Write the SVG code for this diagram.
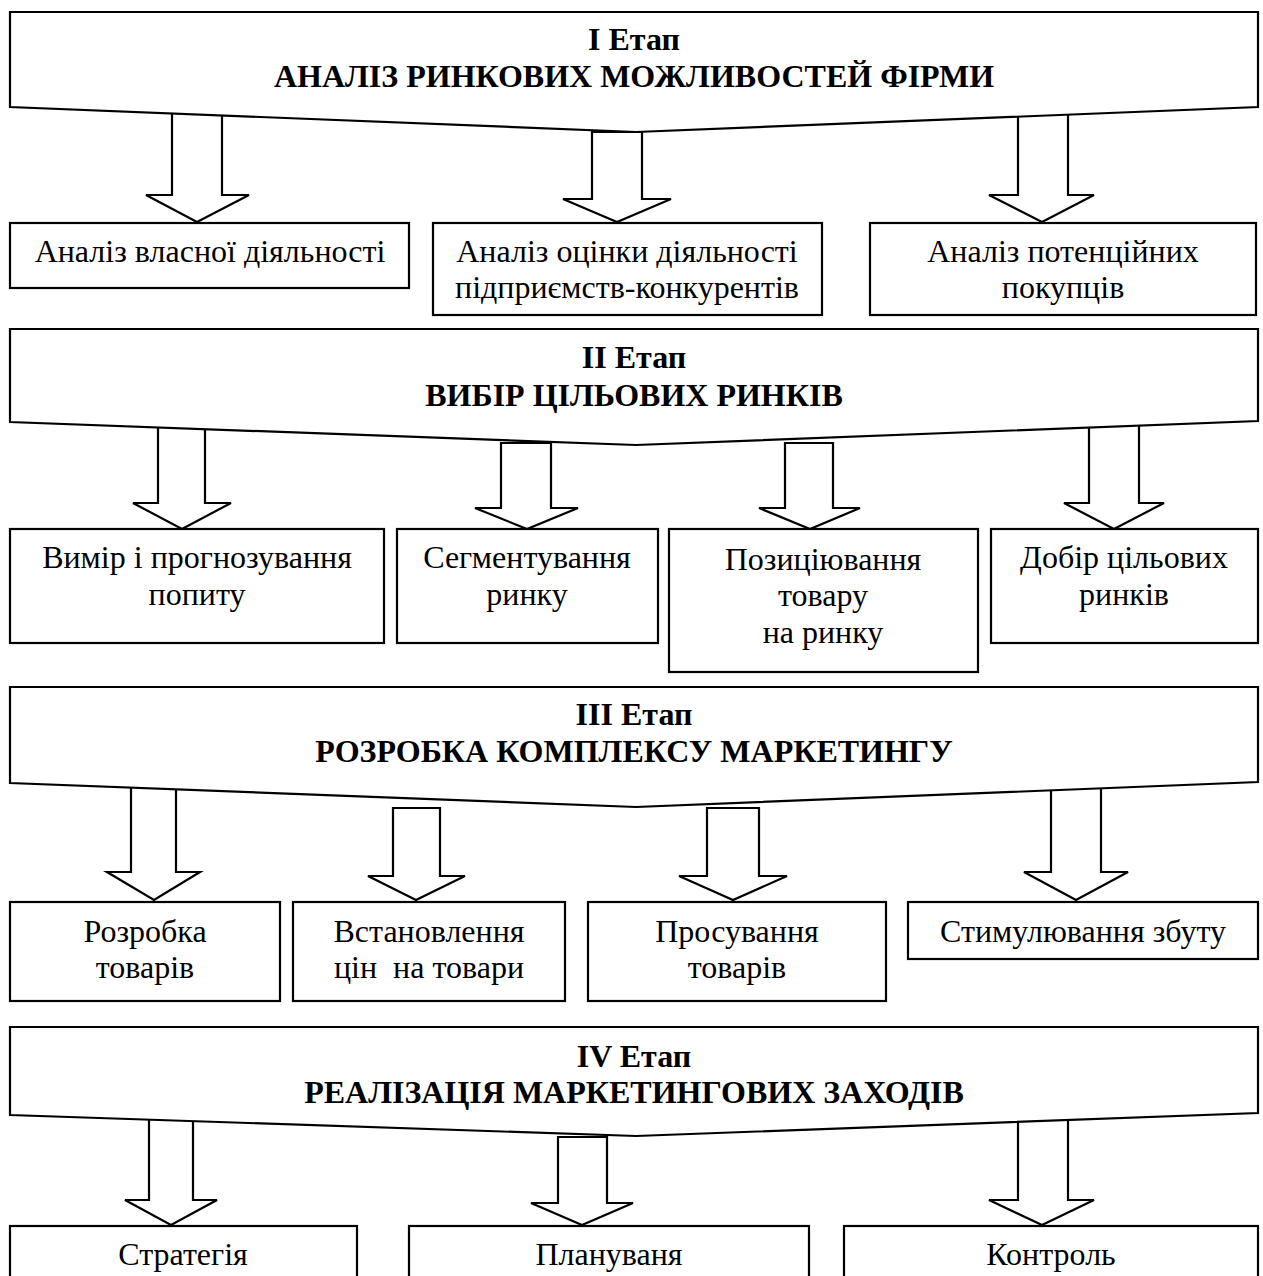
<svg xmlns="http://www.w3.org/2000/svg" width="1263" height="1276" viewBox="0 0 1263 1276">
<style>
.bg{fill:#fff}
.stage{fill:#fff;stroke:#000;stroke-width:2.2;stroke-linejoin:miter}
.box{fill:#fff;stroke:#000;stroke-width:2.2}
.arr{fill:#fff;stroke:#000;stroke-width:2.2;stroke-linejoin:miter}
text{font-family:"Liberation Serif","Times New Roman",serif;fill:#000;text-anchor:middle}
.t{font-size:32px}
.h{font-size:32px;font-weight:bold}
</style>
<rect class="bg" x="0" y="0" width="1263" height="1276"/>
<g id="connectors">
<polygon class="arr" points="172,105 222,105 222,195 249,195 197,222 146,195 172,195"/>
<polygon class="arr" points="592,132 642,132 642,199 671,199 617,222 563,199 592,199"/>
<polygon class="arr" points="1018,110 1068,110 1068,195 1094,195 1042,222 989,195 1018,195"/>
<polygon class="arr" points="158,420 205,420 205,503 231,503 182,529 133,503 158,503"/>
<polygon class="arr" points="501,443 551,443 551,508 578,508 527,529 475,508 501,508"/>
<polygon class="arr" points="785,443 833,443 833,508 860,508 810,529 759,508 785,508"/>
<polygon class="arr" points="1089,425 1139,425 1139,503 1164,503 1114,529 1064,503 1089,503"/>
<polygon class="arr" points="131,785 176,785 176,872 200,872 154,900 107,872 131,872"/>
<polygon class="arr" points="393,808 440,808 440,876 465,876 416,900 368,876 393,876"/>
<polygon class="arr" points="707,808 759,808 759,876 787,876 733,900 679,876 707,876"/>
<polygon class="arr" points="1051,785 1101,785 1101,872 1128,872 1076,900 1024,872 1051,872"/>
<polygon class="arr" points="149,1118 193,1118 193,1200 217,1200 171,1225 125,1200 149,1200"/>
<polygon class="arr" points="558,1137 607,1137 607,1203 633,1203 582,1225 531,1203 558,1203"/>
<polygon class="arr" points="1018,1120 1068,1120 1068,1200 1094,1200 1042,1225 989,1200 1018,1200"/>
</g>
<g id="stage1">
<polygon class="stage" points="10,12 1258,12 1258,107 636,132 10,107"/>
<text class="h" x="634" y="50">I Етап</text>
<text class="h" x="634" y="87">АНАЛІЗ РИНКОВИХ МОЖЛИВОСТЕЙ ФІРМИ</text>
</g>
<g id="n1a"><rect class="box" x="10" y="223" width="399" height="65"/><text class="t" x="210" y="262">Аналіз власної діяльності</text></g>
<g id="n1b"><rect class="box" x="433" y="223" width="389" height="92"/><text class="t" x="627" y="262">Аналіз оцінки діяльності</text><text class="t" x="627" y="298">підприємств-конкурентів</text></g>
<g id="n1c"><rect class="box" x="870" y="223" width="386" height="92"/><text class="t" x="1063" y="262">Аналіз потенційних</text><text class="t" x="1063" y="298">покупців</text></g>
<g id="stage2">
<polygon class="stage" points="10,329 1258,329 1258,421 636,445 10,422"/>
<text class="h" x="634" y="368">II Етап</text>
<text class="h" x="634" y="406">ВИБІР ЦІЛЬОВИХ РИНКІВ</text>
</g>
<g id="n2a"><rect class="box" x="10" y="529" width="374" height="114"/><text class="t" x="197" y="568">Вимір і прогнозування</text><text class="t" x="197" y="605">попиту</text></g>
<g id="n2b"><rect class="box" x="397" y="529" width="261" height="114"/><text class="t" x="527" y="568">Сегментування</text><text class="t" x="527" y="605">ринку</text></g>
<g id="n2c"><rect class="box" x="669" y="529" width="309" height="143"/><text class="t" x="823" y="570">Позиціювання</text><text class="t" x="823" y="606">товару</text><text class="t" x="823" y="643">на ринку</text></g>
<g id="n2d"><rect class="box" x="991" y="529" width="267" height="114"/><text class="t" x="1124" y="568">Добір цільових</text><text class="t" x="1124" y="605">ринків</text></g>
<g id="stage3">
<polygon class="stage" points="10,687 1258,687 1258,782 636,807 10,783"/>
<text class="h" x="634" y="725">III Етап</text>
<text class="h" x="634" y="762">РОЗРОБКА КОМПЛЕКСУ МАРКЕТИНГУ</text>
</g>
<g id="n3a"><rect class="box" x="10" y="902" width="270" height="99"/><text class="t" x="145" y="942">Розробка</text><text class="t" x="145" y="978">товарів</text></g>
<g id="n3b"><rect class="box" x="293" y="902" width="272" height="99"/><text class="t" x="429" y="942">Встановлення</text><text class="t" x="429" y="978" style="white-space:pre">цін  на товари</text></g>
<g id="n3c"><rect class="box" x="588" y="902" width="298" height="99"/><text class="t" x="737" y="942">Просування</text><text class="t" x="737" y="978">товарів</text></g>
<g id="n3d"><rect class="box" x="908" y="902" width="350" height="57"/><text class="t" x="1083" y="942">Стимулювання збуту</text></g>
<g id="stage4">
<polygon class="stage" points="10,1027 1258,1027 1258,1113 636,1136 10,1115"/>
<text class="h" x="634" y="1067">IV Етап</text>
<text class="h" x="634" y="1103">РЕАЛІЗАЦІЯ МАРКЕТИНГОВИХ ЗАХОДІВ</text>
</g>
<g id="n4a"><rect class="box" x="10" y="1226" width="347" height="70"/><text class="t" x="183" y="1265">Стратегія</text></g>
<g id="n4b"><rect class="box" x="409" y="1226" width="400" height="70"/><text class="t" x="609" y="1265">Плануваня</text></g>
<g id="n4c"><rect class="box" x="844" y="1226" width="414" height="70"/><text class="t" x="1051" y="1265">Контроль</text></g>
</svg>
